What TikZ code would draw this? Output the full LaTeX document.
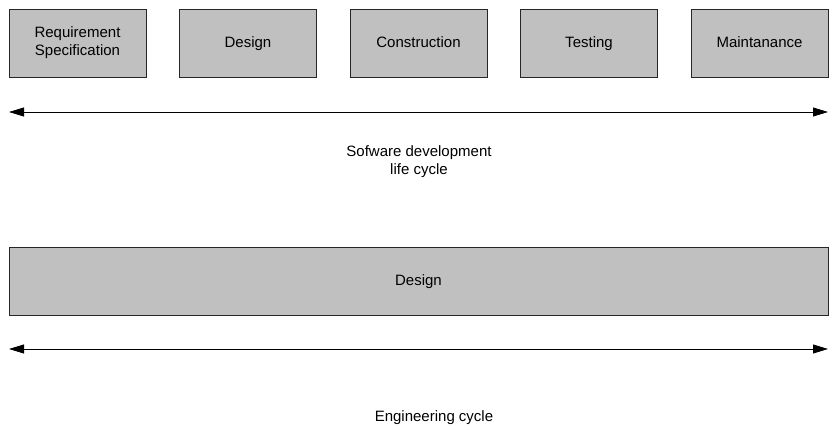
\documentclass[tikz,border=0pt]{standalone}
\usepackage{fontspec}
\setmainfont{Liberation Sans}
\usetikzlibrary{arrows.meta,positioning,calc}

\definecolor{boxgray}{RGB}{192,192,192}

\begin{document}
\begin{tikzpicture}[x=1pt,y=-1pt,
    phase/.style={draw=black!85,fill=boxgray,line width=0.9pt,align=center,
                  minimum width=137pt,minimum height=68pt,inner sep=0pt,
                  font=\fontsize{15}{18}\selectfont},
    oneline/.style={text height=10pt,text depth=0pt},
    span/.style={{Triangle[length=15pt,width=9pt]}-{Triangle[length=15pt,width=9pt]},line width=0.8pt},
    caption/.style={align=center,font=\fontsize{15}{18}\selectfont}]

      \useasboundingbox (0,0) rectangle (835,430);

      % software development life cycle
      \node[phase] at (77.5,43) (req) {Requirement\\Specification};
      \node[phase,oneline,right = 32.6pt of req] (des) {Design};
      \node[phase,oneline,right = 32.6pt of des] (con) {Construction};
      \node[phase,oneline,right = 32.6pt of con] (tst) {Testing};
      \node[phase,oneline,right = 32.6pt of tst] (mnt) {Maintanance};

      \coordinate (s0) at (9,112);
      \coordinate (s1) at (828,112);
      \draw[span] (s0)--(s1);

      \node[caption] at (419,162) (sdlc) {Sofware development\\life cycle};

      % engineering cycle
      \node[phase,oneline,minimum width=819pt] at (418.5,281) (eng) {Design};

      \coordinate (e0) at (9,349);
      \coordinate (e1) at (828,349);
      \draw[span] (e0)--(e1);

      \node[caption] at (434,418) (ec) {Engineering cycle};

    \end{tikzpicture}
\end{document}
